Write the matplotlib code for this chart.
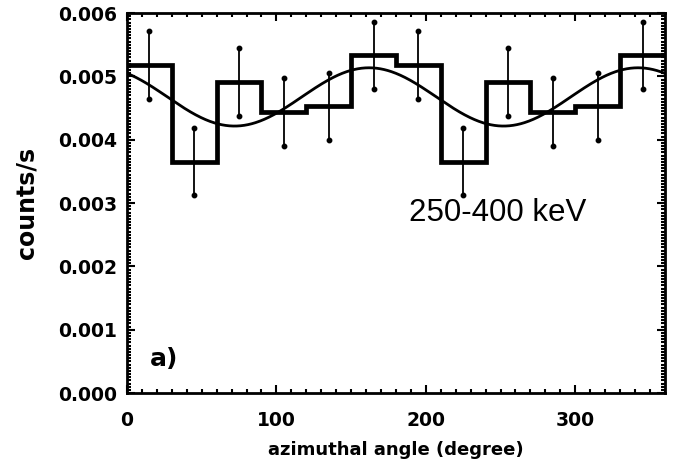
import numpy as np
import matplotlib
matplotlib.use("Agg")
import matplotlib.pyplot as plt
from matplotlib.ticker import MultipleLocator, FormatStrFormatter

# azimuthal distribution, 30-degree bins
bin_edges = [0, 30, 60, 90, 120, 150, 180, 210, 240, 270, 300, 330, 360]
counts = [0.00518, 0.00365, 0.00491, 0.00444, 0.00453, 0.00533,
          0.00518, 0.00365, 0.00491, 0.00444, 0.00453, 0.00533]
errors = [0.00053, 0.00053, 0.00053, 0.00054, 0.00053, 0.00053,
          0.00053, 0.00053, 0.00053, 0.00054, 0.00053, 0.00053]

# modulation fit: mean + amp * cos(2 (phi - phi0))
fit_mean = 0.004675
fit_amp = 0.00046
fit_phi0 = 162.0

fig = plt.figure(figsize=(6.73, 4.61), dpi=100)
ax = fig.add_axes([0.1887, 0.1475, 0.7993, 0.8243])

edges = np.asarray(bin_edges, dtype=float)
centers = 0.5 * (edges[:-1] + edges[1:])
vals = np.asarray(counts)
errs = np.asarray(errors)
ax.stairs(vals, edges, color="black", linewidth=3.4, baseline=None)
ax.errorbar(centers, vals, yerr=errs, fmt="none", ecolor="black",
            elinewidth=1.3)
# small round caps at the ends of each bar
ax.plot(centers, vals + errs, "o", color="black", ms=3.2)
ax.plot(centers, vals - errs, "o", color="black", ms=3.2)

phi = np.linspace(0, 360, 721)
ax.plot(phi, fit_mean + fit_amp * np.cos(np.radians(2 * (phi - fit_phi0))),
        color="black", linewidth=2.0)

ax.set_xlim(0, 360)
ax.set_ylim(0, 0.006)
ax.xaxis.set_major_locator(MultipleLocator(100))
ax.xaxis.set_minor_locator(MultipleLocator(10))
ax.yaxis.set_major_locator(MultipleLocator(0.001))
ax.yaxis.set_minor_locator(MultipleLocator(0.00005))
ax.yaxis.set_major_formatter(FormatStrFormatter("%.3f"))
ax.tick_params(which="both", direction="in", top=True, right=True,
               width=1.5, labelsize=13.5)
ax.tick_params(which="major", length=6)
ax.tick_params(which="minor", length=3)
ax.tick_params(axis="x", which="major", pad=13)
ax.tick_params(axis="y", which="major", pad=7)
for lbl in ax.get_xticklabels() + ax.get_yticklabels():
    lbl.set_fontweight("bold")
for sp in ax.spines.values():
    sp.set_linewidth(2.0)

ax.set_xlabel("azimuthal angle (degree)", fontsize=13, fontweight="bold")
ax.set_ylabel("counts/s", fontsize=17, fontweight="bold")
ax.xaxis.set_label_coords(0.5, -0.15)
ax.xaxis.label.set_va("center")
ax.yaxis.set_label_coords(-0.186, 0.5)
ax.yaxis.label.set_va("center")

ax.text(189, 0.00284, "250-400 keV", fontsize=22.5,
        family="Liberation Sans", va="center", ha="left")
ax.text(25, 0.00054, "a)", fontsize=18, fontweight="bold",
        va="center", ha="center")

fig.savefig("out.png", dpi=100)
